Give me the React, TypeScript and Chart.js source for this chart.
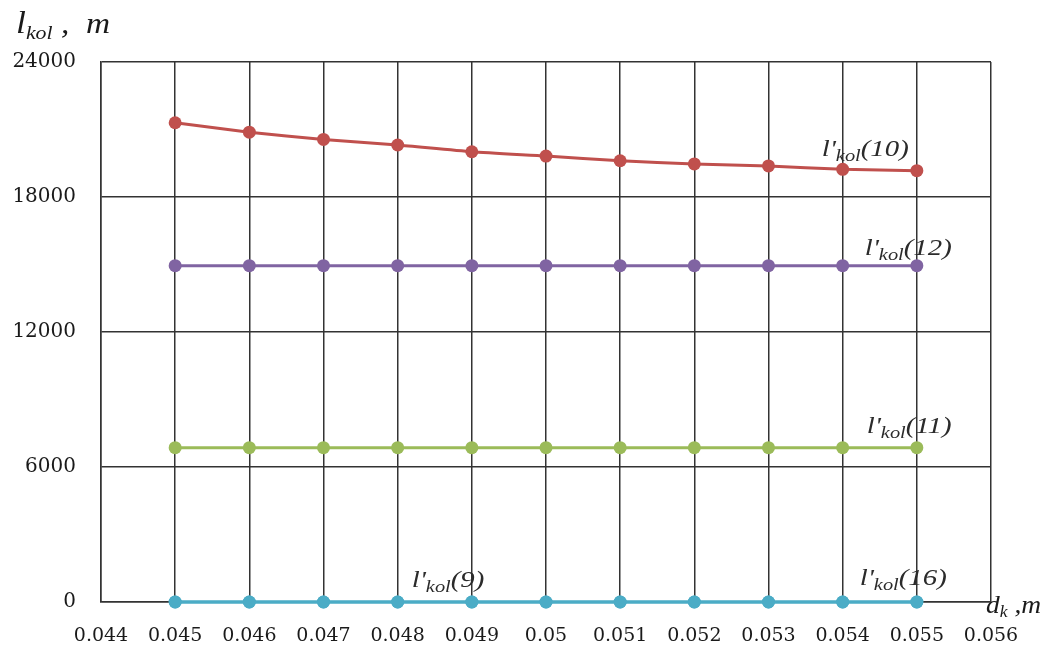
import React, { useEffect, useRef } from "react";
import { Chart, registerables } from "chart.js";

Chart.register(...registerables);

const dValues = [0.045, 0.046, 0.047, 0.048, 0.049, 0.05, 0.051, 0.052, 0.053, 0.054, 0.055];
const l10 = [21300, 20880, 20560, 20310, 20010, 19820, 19610, 19470, 19380, 19230, 19170];
const l12 = [14950, 14950, 14950, 14950, 14950, 14950, 14950, 14950, 14950, 14950, 14950];
const l11 = [6860, 6860, 6860, 6860, 6860, 6860, 6860, 6860, 6860, 6860, 6860];
const l9 = [0, 0, 0, 0, 0, 0, 0, 0, 0, 0, 0];
const l16 = [0, 0, 0, 0, 0, 0, 0, 0, 0, 0, 0];

const xMin = 0.044;
const xMax = 0.056;
const xStep = 0.001;
const yMin = 0;
const yMax = 24000;
const yStep = 6000;

const seriesNames = ["10", "12", "11", "9", "16"];
const seriesData = [l10, l12, l11, l9, l16];
const seriesColors = ["#C0504D", "#8064A2", "#9BBB59", "#4BACC6", "#4BACC6"];

const SERIF = '"Liberation Serif", "Times New Roman", serif';

function drawStretched(ctx: CanvasRenderingContext2D, x: number, y: number, parts: { t: string; size: number; dy: number }[], sx: number) {
  ctx.save();
  ctx.translate(x, y);
  ctx.scale(sx, 1);
  let cx = 0;
  for (const p of parts) {
    ctx.font = `italic ${p.size}px ${SERIF}`;
    ctx.fillText(p.t, cx, p.dy);
    cx += ctx.measureText(p.t).width;
  }
  ctx.restore();
}

function seriesLabel(num: string) {
  return [
    { t: "l'", size: 24, dy: 0 },
    { t: "kol", size: 17, dy: 5 },
    { t: `(${num})`, size: 24, dy: 0 },
  ];
}

const labelsPlugin = {
  id: "seriesLabels",
  afterDraw(chart: any) {
    const ctx: CanvasRenderingContext2D = chart.ctx;
    const xs = chart.scales.x;
    const ys = chart.scales.y;
    ctx.save();
    ctx.fillStyle = "#2b2b2b";
    ctx.textBaseline = "alphabetic";
    ctx.textAlign = "left";
    drawStretched(ctx, xs.getPixelForValue(dValues[9]) - 21, ys.getPixelForValue(l10[9]) - 13, seriesLabel("10"), 1.2);
    drawStretched(ctx, xs.getPixelForValue(dValues[9]) + 22, ys.getPixelForValue(l12[9]) - 11, seriesLabel("12"), 1.2);
    drawStretched(ctx, xs.getPixelForValue(dValues[9]) + 24, ys.getPixelForValue(l11[9]) - 15, seriesLabel("11"), 1.2);
    drawStretched(ctx, xs.getPixelForValue(dValues[3]) + 14, ys.getPixelForValue(l9[3]) - 15, seriesLabel("9"), 1.2);
    drawStretched(ctx, xs.getPixelForValue(dValues[9]) + 17, ys.getPixelForValue(l16[9]) - 17, seriesLabel("16"), 1.2);
    ctx.fillStyle = "#1a1a1a";
    drawStretched(ctx, 16, 33, [
      { t: "l", size: 31, dy: 0 },
      { t: "kol", size: 19, dy: 6 },
      { t: " ,  m", size: 29, dy: 0 },
    ], 1.15);
    drawStretched(ctx, 986, 613, [
      { t: "d", size: 25, dy: 0 },
      { t: "k", size: 16, dy: 4 },
      { t: " ,m", size: 25, dy: 0 },
    ], 1.1);
    ctx.restore();
  },
};

export default function App() {
  const ref = useRef<HTMLCanvasElement | null>(null);
  useEffect(() => {
    document.body.style.margin = "0";
    if (!ref.current) return;
    const chart = new Chart(ref.current, {
      type: "line",
      data: {
        datasets: seriesData.map((arr, i) => ({
          label: "l'kol(" + seriesNames[i] + ")",
          data: dValues.map((d, j) => ({ x: d, y: arr[j] })),
          borderColor: seriesColors[i],
          backgroundColor: seriesColors[i],
          borderWidth: 3,
          pointRadius: 6.5,
          pointHoverRadius: 6.5,
          pointBorderWidth: 0,
          tension: 0.2,
          clip: false as any,
        })),
      },
      options: {
        responsive: false,
        animation: false,
        layout: { padding: { left: 0, top: 62, right: 64, bottom: 0 } },
        plugins: { legend: { display: false }, tooltip: { enabled: false } },
        scales: {
          x: {
            type: "linear",
            min: xMin,
            max: xMax,
            afterFit: (s: any) => { s.height = 46; },
            ticks: {
              stepSize: xStep,
              padding: 23,
              color: "#1a1a1a",
              font: { family: '"DejaVu Serif", serif', size: 19 },
              maxRotation: 0,
              autoSkip: false,
              callback: (v: any) => String(+Number(v).toFixed(3)),
            },
            grid: { color: "#333", lineWidth: 1.5, drawTicks: false },
            border: { color: "#333", width: 1.5 },
          },
          y: {
            min: yMin,
            max: yMax,
            afterFit: (s: any) => { s.width = 101; },
            ticks: {
              stepSize: yStep,
              padding: 25,
              color: "#1a1a1a",
              font: { family: '"DejaVu Serif", serif', size: 20 },
              callback: (v: any) => String(v),
            },
            grid: { color: "#333", lineWidth: 1.5, drawTicks: false },
            border: { color: "#333", width: 1.5 },
          },
        },
      },
      plugins: [labelsPlugin],
    });
    return () => chart.destroy();
  }, []);
  return (
    <div style={{ position: "absolute", left: 0, top: 0, width: 1055, height: 648, background: "#fff" }}>
      <canvas ref={ref} width={1055} height={648} />
    </div>
  );
}
